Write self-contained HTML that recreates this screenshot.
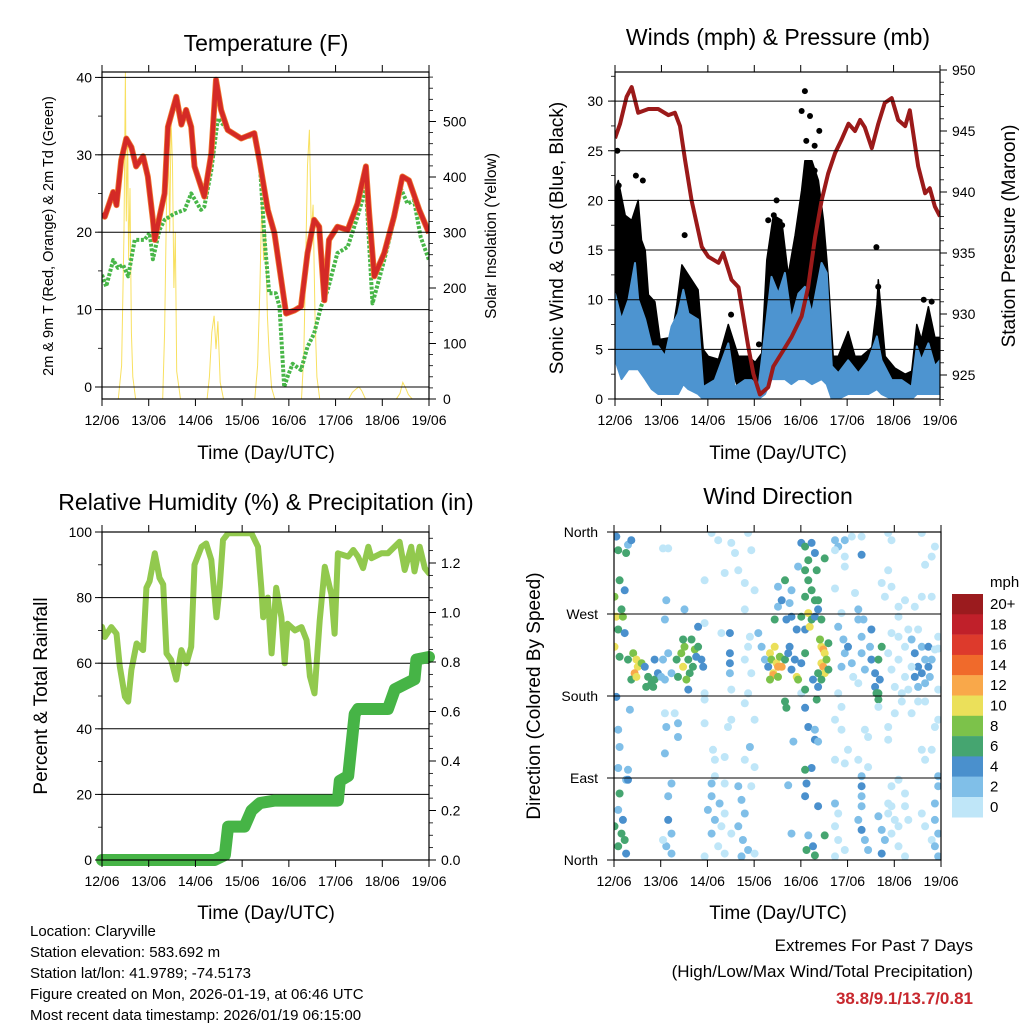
<!DOCTYPE html>
<html><head><meta charset="utf-8"><style>
html,body{margin:0;padding:0;background:#fff;}
svg{display:block;font-family:"Liberation Sans",Arial,sans-serif;}
</style></head><body>
<svg id="chart" xmlns="http://www.w3.org/2000/svg" width="1024" height="1024" viewBox="0 0 1024 1024">
<rect x="0" y="0" width="1024" height="1024" fill="#fff"/>
<text x="266" y="51" font-size="23" text-anchor="middle">Temperature (F)</text>
<text x="778" y="45" font-size="23" text-anchor="middle">Winds (mph) &amp; Pressure (mb)</text>
<text x="266" y="510" font-size="23" text-anchor="middle">Relative Humidity (%) &amp; Precipitation (in)</text>
<text x="778" y="504" font-size="23" text-anchor="middle">Wind Direction</text>
<text x="266" y="459" font-size="19" text-anchor="middle">Time (Day/UTC)</text>
<text x="778" y="459" font-size="19" text-anchor="middle">Time (Day/UTC)</text>
<text x="266" y="919" font-size="19" text-anchor="middle">Time (Day/UTC)</text>
<text x="778" y="919" font-size="19" text-anchor="middle">Time (Day/UTC)</text>
<text transform="translate(53,236) rotate(-90)" font-size="14.5" text-anchor="middle">2m &amp; 9m T (Red, Orange) &amp; 2m Td (Green)</text>
<text transform="translate(496,236) rotate(-90)" font-size="15.5" text-anchor="middle">Solar Insolation (Yellow)</text>
<text transform="translate(563,238) rotate(-90)" font-size="19" text-anchor="middle">Sonic Wind &amp; Gust (Blue, Black)</text>
<text transform="translate(1015,236) rotate(-90)" font-size="19" text-anchor="middle">Station Pressure (Maroon)</text>
<text transform="translate(47,696) rotate(-90)" font-size="19" text-anchor="middle">Percent &amp; Total Rainfall</text>
<text transform="translate(540,696) rotate(-90)" font-size="19" text-anchor="middle">Direction (Colored By Speed)</text>
<g font-size="15">
<text x="30" y="936">Location: Claryville</text>
<text x="30" y="957">Station elevation: 583.692 m</text>
<text x="30" y="978">Station lat/lon: 41.9789; -74.5173</text>
<text x="30" y="999">Figure created on Mon, 2026-01-19, at 06:46 UTC</text>
<text x="30" y="1020">Most recent data timestamp: 2026/01/19 06:15:00</text>
</g>
<text x="973" y="951" font-size="17" text-anchor="end">Extremes For Past 7 Days</text>
<text x="973" y="977" font-size="17" text-anchor="end">(High/Low/Max Wind/Total Precipitation)</text>
<text x="973" y="1004" font-size="17" font-weight="bold" fill="#c8282e" text-anchor="end">38.8/9.1/13.7/0.81</text>
<text x="990" y="587" font-size="15">mph</text>
<g id="marks"></g>
</svg>
<script>
// ---------- data ----------
const dayLabels=["12/06","13/06","14/06","15/06","16/06","17/06","18/06","19/06"];
const tempTicks=[0,10,20,30,40];
const solarTicks=[0,100,200,300,400,500];
const windTicks=[0,5,10,15,20,25,30];
const presTicks=[925,930,935,940,945,950];
const rhTicks=[0,20,40,60,80,100];
const precipTicks=[0.0,0.2,0.4,0.6,0.8,1.0,1.2];
const dirTicks=[0,90,180,270,360];
const dirLabels=["North","East","South","West","North"];
const speedLabels=["0","2","4","6","8","10","12","14","16","18","20+"];
const speedColors=["#bfe6f8","#80bfe8","#4a90cd","#45a570","#7cc24a","#ebe05a","#f9a84a","#f06a2b","#dd3a2c","#c0202a","#9b1b1e"];

const tempT=[0,0.06,0.24,0.31,0.41,0.52,0.63,0.73,0.88,0.98,1.09,1.13,1.23,1.34,1.41,1.59,1.70,1.80,1.91,1.98,2.19,2.34,2.44,2.55,2.69,2.98,3.26,3.37,3.55,3.69,3.94,4.12,4.26,4.40,4.54,4.65,4.76,4.86,5.04,5.26,5.47,5.65,5.72,5.83,6.04,6.25,6.43,6.57,6.79,7.0];
const temp2m=[22.4,22.0,25.2,23.5,29.3,32.1,31.0,28.5,29.8,27.2,21.6,19.0,22.0,25.0,33.6,37.5,33.9,35.8,33.6,28.5,24.6,30.2,39.7,35.8,33.2,32.1,32.8,29.3,22.9,19.9,9.5,9.9,10.4,17.3,21.6,20.7,11.2,19.0,20.7,20.3,23.7,28.5,22.4,14.3,17.3,22.0,27.2,26.7,22.9,19.9];
const dewT=[0,.09,.24,.34,.45,.56,.7,.91,1.02,1.09,1.23,1.34,1.55,1.77,1.91,2.12,2.19,2.34,2.48,2.69,2.98,3.26,3.37,3.48,3.58,3.72,3.8,3.9,3.97,4.08,4.26,4.4,4.54,4.69,4.83,5.04,5.26,5.47,5.65,5.79,6.04,6.25,6.4,6.54,6.68,6.82,7.0];
const dewV=[14.5,13.0,16.4,15.4,15.8,14.3,19.0,19.0,19.9,16.5,20.3,21.6,22.4,22.9,25.0,22.9,23.3,28.0,34.7,33.2,32.1,32.5,29.8,19.0,12.1,12.1,10.4,0,1.3,3.0,2.2,5.2,6.9,10.4,12.5,17.3,18.1,22.0,25.8,10.8,16.4,21.6,25.6,23.7,24.1,19.4,16.4];
const solarT=[0,0.35,0.42,0.47,0.5,0.52,0.55,0.57,0.6,0.63,0.66,0.72,1.3,1.34,1.38,1.42,1.45,1.48,1.51,1.54,1.57,1.6,1.68,2.25,2.3,2.35,2.4,2.44,2.48,2.53,2.6,3.27,3.33,3.38,3.42,3.46,3.5,3.54,3.58,3.63,3.7,4.27,4.32,4.36,4.4,4.44,4.48,4.52,4.56,4.6,4.66,5.28,5.36,5.44,5.5,5.56,5.64,6.3,6.38,6.44,6.5,6.56,6.64,7];
const solarV=[0,0,60,300,590,320,470,250,380,120,40,0,0,120,350,480,300,500,420,200,300,50,0,0,40,120,150,90,140,30,0,0,60,200,358,250,300,150,80,20,0,0,80,250,420,485,300,350,150,40,0,0,12,18,22,15,0,0,10,30,20,8,0,0];

const gustT=[0,.07,.22,.36,.5,.57,.65,.72,.86,.97,1.22,1.33,1.44,1.58,1.79,1.9,2.01,2.23,2.44,2.66,2.87,3.02,3.16,3.27,3.41,3.59,3.73,3.88,4.02,4.09,4.24,4.38,4.49,4.59,4.7,4.81,5.02,5.17,5.31,5.53,5.64,5.67,5.82,6.03,6.25,6.39,6.5,6.6,6.75,6.89,7.0];
const gustV=[21,22,18.5,18,20,16,15,10.5,9.8,6,6.2,9.5,13.5,12.5,11,5,4.3,4,7.5,4.3,4.3,3.7,4.6,14,18.5,18,12.5,16.5,21,24,24,22,18,12.5,4.3,4.3,6.8,4.3,4.3,5.2,9.5,12,4.3,3.1,2.5,2.8,7.5,6,9.3,6.2,6.2];
const gustOutT=[4.09,4.02,4.2,4.4,3.48,1.5,0.6,5.63,5.67,6.65,6.82,2.5,3.1,0.08,3.3,3.6,4.3,0.05,0.45,4.12,4.3,3.42];
const gustOutV=[31,29,28.5,27,20,16.5,22,15.3,11.3,10,9.8,8.5,5.5,21.5,18,17.5,23,25,22.5,26,25.5,18.5];
const windT=[0,.14,.29,.43,.5,.65,.79,.93,1.08,1.22,1.36,1.47,1.58,1.79,1.9,2.15,2.44,2.58,2.8,2.94,3.09,3.23,3.37,3.52,3.66,3.8,3.95,4.09,4.24,4.45,4.56,4.67,4.81,5.02,5.24,5.46,5.64,5.74,5.96,6.17,6.39,6.5,6.6,6.75,6.89,7.0];
const windHigh=[10.6,8.0,10.0,13.7,10.0,8.0,5.3,5.3,4.3,7.3,8.6,11.0,8.6,8.0,1.2,1.9,5.6,1.2,1.9,1.9,1.2,6.6,12.3,10.6,12.7,8.0,10.6,11.3,8.6,13.7,12.7,3.3,2.6,3.9,2.6,3.9,6.3,3.9,1.9,1.9,1.2,5.3,3.9,5.6,3.3,3.9];
const windLow=[4,2,3,3,3,2,1,0.5,0.5,0.5,0.5,1.5,1,0.5,0,0,0,0,0,0,0,0.5,2,2,2,1.5,2,2,1.5,2,1.5,0,0,0.5,0.5,0.5,1,0.5,0,0,0,0.5,0.5,0.5,0.5,0.5];
const presT=[0,.11,.25,.36,.5,.72,.93,1.15,1.29,1.4,1.51,1.65,1.87,2.01,2.23,2.33,2.51,2.66,2.87,2.98,3.12,3.3,3.41,3.59,3.8,4.02,4.16,4.31,4.45,4.59,4.74,4.88,5.03,5.17,5.28,5.38,5.53,5.67,5.81,5.96,6.1,6.25,6.35,6.53,6.68,6.78,6.89,7.0];
const presV=[944.4,945.6,947.8,948.6,946.5,946.8,946.8,946.3,946.5,945.4,942.6,939.3,935.5,934.7,934.2,935.0,932.8,932.2,927.3,925.1,923.4,924.0,925.7,926.8,928.1,929.8,932.2,936.3,939.3,941.5,943.2,944.3,945.6,945.0,945.9,945.3,943.6,945.6,947.3,947.7,945.9,945.4,946.7,942.1,939.9,940.3,938.8,938.0];

const rhT=[0,.06,.2,.31,.38,.49,.56,.63,.74,.88,.95,1.02,1.13,1.23,1.31,1.38,1.48,1.59,1.7,1.81,1.91,1.98,2.13,2.23,2.34,2.45,2.52,2.59,2.7,3.2,3.34,3.41,3.45,3.55,3.63,3.73,3.84,3.91,3.97,4.13,4.27,4.38,4.45,4.55,4.66,4.77,4.91,4.98,5.05,5.27,5.38,5.48,5.59,5.7,5.77,5.98,6.12,6.37,6.48,6.62,6.69,6.8,6.91,7.0];
const rhV=[71.1,68,71,69,59,49.8,48.3,58,66,64,83,85,93.5,86,84,63,61,55,64,60,65,90,95.5,96.5,91.5,74,83.3,97.6,99.6,99.6,95.5,83,74,80,63,83,74,60,72,70,71,67,56,50.8,73,89.4,81,69,93.5,92.5,94.5,92.5,89,95.5,92,93.5,93.5,97,88.4,95.5,88,95.5,89,87.4];
const precipT=[0,2.41,2.63,2.7,3.05,3.2,3.38,3.7,5.05,5.09,5.27,5.41,5.48,6.12,6.27,6.48,6.69,6.73,7.0];
const precipV=[0,0,0.02,0.135,0.135,0.2,0.23,0.24,0.24,0.32,0.34,0.59,0.61,0.61,0.69,0.71,0.73,0.81,0.82];

const dirT=[.05,.09,.3,.26,.37,.12,.23,.01,.16,.05,.19,.09,.23,.01,.12,.3,.41,.48,.51,.44,.59,.37,.48,.05,.34,.09,.12,.09,.3,.26,.12,.09,.19,.01,.16,.23,.09,.26,
.66,.73,.8,.87,.94,.69,.84,1.01,1.09,1.05,1.16,1.23,.87,1.12,1.09,1.05,1.16,1.09,1.12,1.3,1.37,1.37,1.09,1.23,1.16,1.16,1.23,1.12,1.23,1.05,.3,
1.34,1.44,1.51,1.59,1.66,1.73,1.8,1.87,1.48,1.62,1.37,1.55,1.69,1.76,1.94,1.8,1.51,1.48,1.59,1.91,1.94,1.94,1.94,2.12,2.16,2.09,2.09,2.01,2.16,2.09,2.23,1.94,2.26,2.16,1.94,2.09,2.23,
2.48,2.48,2.48,2.48,2.51,2.3,2.37,2.51,2.59,2.66,2.8,2.87,2.94,3.01,2.8,2.91,2.87,2.8,2.94,2.87,2.8,3.01,2.51,2.44,2.37,2.8,3.01,2.91,2.66,2.73,2.8,2.66,2.76,2.87,2.94,3.01,2.37,2.37,2.51,2.37,2.73,2.3,
3.09,3.16,3.23,3.3,3.34,3.37,3.41,3.44,3.48,3.51,3.55,3.59,3.41,3.34,3.51,3.66,3.73,3.76,3.8,3.87,3.91,3.94,4.01,4.09,3.44,3.51,3.59,3.69,3.8,3.91,4.01,4.09,4.16,4.19,4.23,4.3,3.66,3.76,3.8,3.51,3.94,4.01,4.09,4.16,4.23,4.3,4.09,4.16,4.23,4.09,4.3,4.37,4.51,4.34,4.37,4.44,4.01,4.09,3.66,3.69,4.09,4.16,4.3,4.3,4.37,4.23,4.09,4.12,4.09,4.37,3.8,4.16,4.51,4.26,4.12,4.3,3.73,3.84,
4.44,4.48,4.51,4.44,4.48,4.51,4.55,4.59,4.41,4.37,4.44,4.37,4.34,4.26,4.59,
4.73,4.8,4.94,5.09,5.3,4.73,4.94,5.3,4.94,4.73,5.16,5.23,4.87,4.8,4.91,4.94,4.87,5.01,5.09,5.12,5.23,4.8,4.87,4.73,5.23,5.34,5.3,5.3,5.37,5.51,5.48,5.51,5.59,5.59,5.62,5.66,5.69,5.66,5.37,5.44,4.87,5.01,4.73,4.94,5.23,5.44,5.3,5.3,5.3,5.3,5.23,5.3,5.37,5.44,4.73,4.8,4.73,4.8,4.94,4.73,5.66,5.73,5.8,5.73,5.87,5.94,6.01,6.09,5.94,6.09,6.23,5.87,5.94,6.09,6.23,6.23,6.3,6.59,6.66,6.8,6.87,6.94,6.87,6.94,6.87,6.94,6.94,6.59,6.8,6.66,6.87,6.94,6.37,6.51,6.66,6.16,6.01,5.87,5.66,5.87,5.87,5.94,5.87,5.94,6.23,6.09,6.44,6.59,6.8,6.59,6.8,6.66,6.87,5.73,5.8,6.09,6.3,6.37,6.44,6.51,6.44,6.51,6.59,6.66,6.73,6.73,6.76,6.8,6.87,6.94,6.94,6.94,6.51,6.37,6.23,6.09,5.94,6.09,6.23,5.87,5.94,6.01,6.16,6.3,6.59,6.66,5.73,5.66];
const dirDeg=[355,340,346,337,351,307,296,289,275,267,267,253,249,234,223,220,227,220,212,205,216,198,201,179,165,143,124,101,99,88,73,55,44,37,29,22,15,7,
212,201,194,198,205,190,190,201,198,220,227,205,220,285,264,342,342,161,146,161,150,135,117,84,70,44,29,15,7,22,88,
220,227,234,220,242,231,234,220,212,205,201,198,212,223,260,256,275,242,187,212,183,176,150,121,110,84,70,55,44,29,15,4,62,92,307,359,351,
249,227,216,205,187,249,315,348,337,318,304,359,340,296,275,245,234,220,205,183,172,154,154,146,113,110,102,124,81,66,51,37,22,11,81,7,84,51,29,7,4,37,
249,234,220,212,227,220,205,234,216,212,223,212,203,198,201,220,227,234,209,220,201,198,216,227,264,278,285,264,267,253,267,253,271,256,264,267,307,282,296,300,322,348,344,329,348,337,318,307,296,289,285,285,331,318,275,264,183,187,174,167,167,146,143,132,130,101,99,84,70,59,29,27,27,15,11,5,82,130,
234,231,227,216,212,205,220,238,242,205,198,190,176,198,209,
351,344,351,355,355,340,333,335,322,298,293,275,271,256,242,227,212,234,216,201,194,183,168,154,264,264,245,227,209,253,234,220,205,190,183,220,198,176,143,135,143,121,110,106,110,102,92,81,70,59,44,33,22,11,62,51,37,22,11,4,48,33,22,7,51,59,44,37,29,15,4,62,81,88,73,59,44,51,37,22,62,81,44,29,15,92,4,121,121,110,146,154,161,174,174,174,161,146,168,132,359,351,318,300,285,278,278,289,289,359,333,324,344,304,289,267,253,242,227,212,201,190,234,220,234,212,201,220,231,245,232,187,253,212,201,220,249,245,234,227,209,190,183,187,205,194,234,183];
const dirSpeed=[5,6,3,6,4,7,4,8,7,10,8,6,5,10,6,6,9,11,10,12,8,7,11,4,3,3,3,3,2,3,7,3,4,7,6,7,6,4,
5,6,6,6,5,6,6,3,3,3,2,2,4,2,2,1,1,1,3,1,3,3,2,2,3,4,3,2,2,1,4,
7,8,9,7,6,8,6,4,10,7,6,8,7,5,1,4,2,6,4,4,1,1,1,1,1,2,2,2,3,2,1,1,2,1,1,1,1,
4,4,4,3,1,1,1,1,1,1,1,1,1,1,1,1,1,1,1,1,1,1,1,1,1,1,1,3,2,3,3,3,3,2,1,1,1,1,1,1,2,1,
2,2,2,4,10,9,11,10,11,12,9,12,12,8,8,6,5,4,4,5,10,8,5,7,7,3,4,4,5,4,6,4,10,10,6,5,7,3,3,3,3,4,7,6,4,5,6,7,7,7,7,7,6,6,5,6,1,6,6,6,4,4,3,4,3,4,6,4,4,4,3,3,6,4,6,6,3,2,
11,12,10,11,12,10,8,7,8,6,6,4,6,4,7,
2,2,2,1,1,1,1,4,1,1,1,2,1,2,2,2,2,4,3,1,1,1,1,1,2,2,2,2,2,4,3,4,4,4,6,6,4,6,1,1,1,1,1,1,1,1,3,4,3,3,3,4,3,2,2,1,1,1,1,1,2,3,3,4,1,1,1,1,1,1,1,1,1,1,1,1,1,1,1,1,3,3,3,3,3,3,2,1,1,1,1,1,1,1,1,1,1,1,1,1,1,1,1,1,1,1,1,1,1,1,1,1,1,1,1,1,1,3,4,4,4,2,3,3,4,4,3,2,1,1,1,1,1,1,1,1,1,1,1,1,1,1,1,1,4,2,6,6];

// ---------- helpers ----------
const NS='http://www.w3.org/2000/svg';
const root=document.getElementById('marks');
function mk(tag,attrs,parent){const e=document.createElementNS(NS,tag);for(const k in attrs)e.setAttribute(k,attrs[k]);(parent||root).appendChild(e);return e;}
function pathFrom(ts,vs,xf,yf){let d='';for(let i=0;i<ts.length;i++){d+=(i?'L':'M')+xf(ts[i]).toFixed(1)+','+yf(vs[i]).toFixed(1);}return d;}
function bandFrom(ts,lo,hi,xf,yf){let d='';for(let i=0;i<ts.length;i++)d+=(i?'L':'M')+xf(ts[i]).toFixed(1)+','+yf(hi[i]).toFixed(1);for(let i=ts.length-1;i>=0;i--)d+='L'+xf(ts[i]).toFixed(1)+','+yf(lo[i]).toFixed(1);return d+'Z';}
function interp(ts,vs,t){if(t<=ts[0])return vs[0];for(let i=1;i<ts.length;i++){if(t<=ts[i]){const f=(t-ts[i-1])/(ts[i]-ts[i-1]);return vs[i-1]+f*(vs[i]-vs[i-1]);}}return vs[vs.length-1];}

const P1={x0:102,x1:429,y0:72,y1:399};
const P2={x0:615,x1:940,y0:72,y1:399};
const P3={x0:102,x1:429,y0:532,y1:860};
const P4={x0:614,x1:941,y0:532,y1:860};
const xs=p=>t=>p.x0+t*(p.x1-p.x0)/7;
const x1=xs(P1),x2=xs(P2),x3=xs(P3),x4=xs(P4);
const yTemp=v=>387-v*7.74;
const ySolar=v=>399-v*0.555;
const yWind=v=>399-v*9.93;
const yPres=v=>70+(950-v)*12.2;
const yRH=v=>860-v*3.28;
const yPrecip=v=>860-v*247.5;
const yDir=v=>860-v*(328/360);

function clip(id,p){const c=mk('clipPath',{id:id});mk('rect',{x:p.x0,y:p.y0,width:p.x1-p.x0,height:p.y1-p.y0},c);}
clip('c1',P1);clip('c2',P2);clip('c3',P3);clip('c4',P4);

function frame(p,name,xf){
  for(let i=0;i<dayLabels.length;i++){
    const x=xf(i);
    const tb=mk('line',{x1:x,x2:x,y1:p.y1,y2:p.y1+7,stroke:'#000','stroke-width':1});
    
    
    const tt=mk('line',{x1:x,x2:x,y1:p.y0-7,y2:p.y0,stroke:'#000','stroke-width':1});
    
    
    const lb=mk('text',{x:x,y:p.y1+26,'font-size':14,'text-anchor':'middle'});
    lb.textContent=dayLabels[i];
    
    
  }
  const r=mk('rect',{x:p.x0,y:p.y0,width:p.x1-p.x0,height:p.y1-p.y0,fill:'none',stroke:'#000','stroke-width':1.2});
  
  
}
function grid(p,name,vals,yf){
  for(const v of vals){const y=yf(v);
    const g=mk('line',{x1:p.x0,x2:p.x1,y1:y,y2:y,stroke:'#000','stroke-width':1});
    
    }
}
function yAxis(p,name,side,vals,labels,yf,minorStep,minorFrom,minorTo,off){
  const x=side==='left'?p.x0:p.x1, dir=side==='left'?-1:1;
  for(let v=minorFrom;v<=minorTo+1e-9;v+=minorStep){const y=yf(v);
    const m=mk('line',{x1:x,x2:x+dir*4,y1:y,y2:y,stroke:'#000','stroke-width':0.8});
    
    }
  for(let i=0;i<vals.length;i++){const y=yf(vals[i]);
    const t=mk('line',{x1:x,x2:x+dir*7,y1:y,y2:y,stroke:'#000','stroke-width':1});
    
    
    const l=mk('text',{x:x+dir*off,y:y+5,'font-size':14,'text-anchor':side==='left'?'end':'start'});
    l.textContent=labels[i];
    
    }
}

// ---------- panel 1 ----------
const g1=mk('g',{'clip-path':'url(#c1)'});


const sol=mk('path',{d:pathFrom(solarT,solarV,x1,ySolar),fill:'none',stroke:'#f8e060','stroke-width':1},g1);


grid(P1,'temperature',tempTicks,yTemp);
const dew=mk('path',{d:pathFrom(dewT,dewV,x1,yTemp),fill:'none',stroke:'#48b648','stroke-width':4,'stroke-dasharray':'3 1.6','stroke-linejoin':'round'},g1);


const t9=mk('path',{d:pathFrom(tempT,temp2m,x1,yTemp),fill:'none',stroke:'#f07a30','stroke-width':6,'stroke-linejoin':'round'},g1);


const t2=mk('path',{d:pathFrom(tempT,temp2m,x1,yTemp),fill:'none',stroke:'#d42a26','stroke-width':4.5,'stroke-linejoin':'round'},g1);


frame(P1,'temperature',x1);
yAxis(P1,'temperature-y','left',tempTicks,tempTicks.map(String),yTemp,5,0,40,10);
yAxis(P1,'solar-y','right',solarTicks,solarTicks.map(String),ySolar,20,0,580,14);

// ---------- panel 2 ----------
const g2=mk('g',{'clip-path':'url(#c2)'});


grid(P2,'winds',windTicks,yWind);
const gustLo=gustT.map(t=>interp(windT,windHigh,t)*0.7);
const gust=mk('path',{d:bandFrom(gustT,gustLo,gustV,x2,yWind),fill:'#000',stroke:'#000','stroke-width':1.5,'stroke-linejoin':'round'},g2);


for(let i=0;i<gustOutT.length;i++){const c=mk('circle',{cx:x2(gustOutT[i]),cy:yWind(gustOutV[i]),r:3,fill:'#000'},g2);
  
  }
const wnd=mk('path',{d:bandFrom(windT,windLow,windHigh,x2,yWind),fill:'#4d94d0',stroke:'#4d94d0','stroke-width':2,'stroke-linejoin':'round'},g2);


const pres=mk('path',{d:pathFrom(presT,presV,x2,yPres),fill:'none',stroke:'#9b1a1a','stroke-width':4,'stroke-linejoin':'round'},g2);


frame(P2,'winds',x2);
yAxis(P2,'winds-y','left',windTicks,windTicks.map(String),yWind,2.5,0,32.5,12);
yAxis(P2,'pressure-y','right',presTicks,presTicks.map(String),yPres,1,923,950,12);

// ---------- panel 3 ----------
const g3=mk('g',{'clip-path':'url(#c3)'});


grid(P3,'humidity',rhTicks,yRH);
const rh=mk('path',{d:pathFrom(rhT,rhV,x3,yRH),fill:'none',stroke:'#92c94e','stroke-width':6,'stroke-linejoin':'round','stroke-linecap':'round'},g3);


const pr=mk('path',{d:pathFrom(precipT,precipV,x3,yPrecip),fill:'none',stroke:'#46b446','stroke-width':12,'stroke-linejoin':'round','stroke-linecap':'round'});


frame(P3,'humidity',x3);
yAxis(P3,'humidity-y','left',rhTicks,rhTicks.map(String),yRH,10,0,100,10);
yAxis(P3,'precip-y','right',precipTicks,precipTicks.map(v=>v.toFixed(1)),yPrecip,0.05,0,1.3,12);

// ---------- panel 4 ----------
const g4=mk('g',{'clip-path':'url(#c4)'});


grid(P4,'wind-direction',[90,180,270],yDir);
for(let i=0;i<dirT.length;i++){
  const b=Math.min(10,Math.floor(dirSpeed[i]/2));
  const c=mk('circle',{cx:x4(dirT[i]).toFixed(1),cy:yDir(dirDeg[i]).toFixed(1),r:4,fill:speedColors[b]},g4);
  
  
}
frame(P4,'wind-direction',x4);
yAxis(P4,'direction-y','left',dirTicks,dirLabels,yDir,1000,0,0,16);

for(let i=0;i<speedColors.length;i++){
  const k=speedColors.length-1-i;
  const y=594+i*20.3;
  const r=mk('rect',{x:952,y:y,width:31,height:20.5,fill:speedColors[k]});
  
  
  const t=mk('text',{x:990,y:y+15,'font-size':15});
  t.textContent=speedLabels[k];
  
  
}
</script>
</body></html>
